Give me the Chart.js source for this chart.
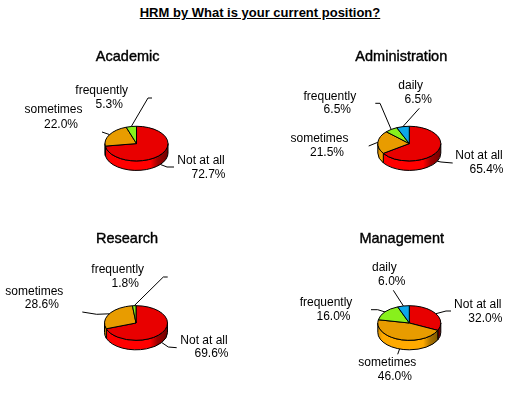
<!DOCTYPE html>
<html>
<head>
<meta charset="utf-8">
<script src="https://cdn.jsdelivr.net/npm/chart.js@4/dist/chart.umd.js"></script>
<style>
  html, body { margin: 0; padding: 0; background: #fff; overflow: hidden; }
  body { position: relative; width: 513px; height: 394px; }
  canvas { position: absolute; }
  #title { position: absolute; left: 0; top: 5px; width: 520px; text-align: center;
           font: bold 13px "Liberation Sans", Arial, sans-serif; color: #000; text-decoration: underline; }
</style>
</head>
<body>
<div id="title">HRM by What is your current position?</div>
<canvas id="c0" width="256" height="197" style="left:0;top:0"></canvas>
<canvas id="c1" width="257" height="197" style="left:256px;top:0"></canvas>
<canvas id="c2" width="256" height="197" style="left:0;top:197px"></canvas>
<canvas id="c3" width="257" height="197" style="left:256px;top:197px"></canvas>
<script>
// values in percent
var categories = ['Not at all', 'sometimes', 'frequently', 'daily'];
var academic = [72.7, 22.0, 5.3, 0];
var administration = [65.4, 21.5, 6.5, 6.5];
var research = [69.6, 28.6, 1.8, 0];
var management = [32.0, 46.0, 16.0, 6.0];

var topColors = ['#e80000', '#e89c00', '#88f01c', '#0ca8e8'];
var wallColors = [
  ['#e00000', '#ff0000', '#ff0000', '#a00000', '#700000'],
  ['#d89000', '#ffaa00', '#ffaa00', '#a87000', '#705000'],
  ['#70c010', '#90ff20', '#90ff20', '#60a010', '#406000'],
  ['#0c90c8', '#10b0f0', '#10b0f0', '#0870a0', '#045070']
];

var R = 31.5, SQUASH = 0.55, DEPTH = 9.5;

// page coordinates: centre, heading, then for each category the label and its leader
var panels = [
  { id: 'c0', name: 'Academic', data: academic, left: 0, top: 0, cx: 136.5, cy: 143.6, headX: 127.7, headY: 57,
    labels: [[201, 160.7, 174.7], [53.5, 110, 124.3], [101.7, 90.7, 104.7]],
    leaders: [[[167, 167], [174, 167]], [[102, 132]], [[148, 98], [152, 98]]] },
  { id: 'c1', name: 'Administration', data: administration, left: 256, top: 0, cx: 409.3, cy: 143.6, headX: 401.3, headY: 57,
    labels: [[479, 155.7, 170], [319.5, 139, 152.7], [329.8, 96.7, 110], [410.7, 86, 100]],
    leaders: [[[441, 162], [452.7, 163]], [[368.7, 146]], [[380, 103.3], [375.3, 103.3]], [[419.3, 108.3]]] },
  { id: 'c2', name: 'Research', data: research, left: 0, top: 197, cx: 136, cy: 323, headX: 127, headY: 239,
    labels: [[204, 340.3, 353.7], [34.3, 292, 304.7], [117.7, 269.7, 283.7]],
    leaders: [[[168.3, 347], [176.7, 347.7]], [[96.7, 314.3], [82.3, 312]], [[163.3, 277], [167.7, 277]]] },
  { id: 'c3', name: 'Management', data: management, left: 256, top: 197, cx: 409.3, cy: 323, headX: 401.7, headY: 239,
    labels: [[477.8, 304.7, 318.7], [387.3, 362.7, 377], [326, 303, 317], [384.3, 267.7, 281.7]],
    leaders: [[[446, 311], [451, 311]], [[397.7, 354.3]], [[377.7, 309.7], [371, 309.7]], [[393.3, 290.3]]] }
];

function wallGradient(ctx, cx, colors) {
  var g = ctx.createLinearGradient(cx - R, 0, cx + R, 0);
  g.addColorStop(0, colors[0]);
  g.addColorStop(0.08, colors[1]);
  g.addColorStop(0.72, colors[2]);
  g.addColorStop(0.84, colors[3]);
  g.addColorStop(1, colors[4]);
  return g;
}

var pie3d = {
  id: 'pie3d',
  beforeDatasetDraw: function (chart) {
    var ctx = chart.ctx, arcs = chart.getDatasetMeta(0).data;
    ctx.save();
    ctx.lineWidth = 1;
    ctx.strokeStyle = '#000';
    // side wall, only the front half of the ellipse shows
    arcs.forEach(function (arc, i) {
      var p = arc.getProps(['x', 'y', 'startAngle', 'endAngle', 'outerRadius']);
      if (p.endAngle - p.startAngle <= 0) return;
      [-2 * Math.PI, 0, 2 * Math.PI].forEach(function (shift) {
        var a = Math.max(p.startAngle + shift, 0), b = Math.min(p.endAngle + shift, Math.PI);
        if (b <= a) return;
        var ry = p.outerRadius * SQUASH;
        ctx.beginPath();
        ctx.ellipse(p.x, p.y, p.outerRadius, ry, 0, a, b);
        ctx.ellipse(p.x, p.y + DEPTH, p.outerRadius, ry, 0, b, a, true);
        ctx.closePath();
        ctx.fillStyle = wallGradient(ctx, p.x, wallColors[i]);
        ctx.fill();
        ctx.stroke();
      });
    });
    // top face
    arcs.forEach(function (arc, i) {
      var p = arc.getProps(['x', 'y', 'startAngle', 'endAngle', 'outerRadius']);
      if (p.endAngle - p.startAngle <= 0) return;
      ctx.beginPath();
      ctx.moveTo(p.x, p.y);
      ctx.ellipse(p.x, p.y, p.outerRadius, p.outerRadius * SQUASH, 0, p.startAngle, p.endAngle);
      ctx.closePath();
      ctx.fillStyle = arc.options.backgroundColor;
      ctx.fill();
      ctx.stroke();
    });
    ctx.restore();
    return false;
  },
  afterDraw: function (chart, args, opts) {
    var ctx = chart.ctx, panel = opts.panel, arcs = chart.getDatasetMeta(0).data;
    ctx.save();
    ctx.translate(-panel.left, -panel.top);
    ctx.fillStyle = '#000';
    ctx.textAlign = 'center';
    ctx.textBaseline = 'middle';
    ctx.font = '14.5px "Liberation Sans", Arial, sans-serif';
    ctx.strokeStyle = '#000';
    ctx.lineWidth = 0.4;
    ctx.fillText(panel.name, panel.headX, panel.headY);
    ctx.strokeText(panel.name, panel.headX, panel.headY);

    ctx.font = '12px "Liberation Sans", Arial, sans-serif';
    ctx.lineWidth = 1;
    panel.labels.forEach(function (lab, i) {
      var p = arcs[i].getProps(['startAngle', 'endAngle', 'outerRadius']);
      var mid = (p.startAngle + p.endAngle) / 2;
      var sx = panel.cx + p.outerRadius * Math.cos(mid);
      var sy = panel.cy + p.outerRadius * SQUASH * Math.sin(mid);
      if (Math.sin(mid) > 0) sy += DEPTH;
      ctx.beginPath();
      ctx.moveTo(sx, sy);
      panel.leaders[i].forEach(function (pt) { ctx.lineTo(pt[0], pt[1]); });
      ctx.stroke();
      ctx.fillText(categories[i], lab[0], lab[1]);
      ctx.fillText(panel.data[i].toFixed(1) + '%', lab[0] + 7.5, lab[2]);
    });
    ctx.restore();
  }
};

panels.forEach(function (panel) {
  var canvas = document.getElementById(panel.id);
  var x = panel.cx - panel.left, y = panel.cy - panel.top;
  new Chart(canvas, {
    type: 'pie',
    data: {
      labels: categories,
      datasets: [{ data: panel.data, backgroundColor: topColors, borderWidth: 0 }]
    },
    plugins: [pie3d],
    options: {
      responsive: false,
      animation: false,
      layout: { padding: { left: x - R, right: canvas.width - x - R, top: y - R, bottom: canvas.height - y - R } },
      plugins: {
        legend: { display: false },
        tooltip: { enabled: false },
        pie3d: { panel: panel }
      }
    }
  });
});
</script>
</body>
</html>
